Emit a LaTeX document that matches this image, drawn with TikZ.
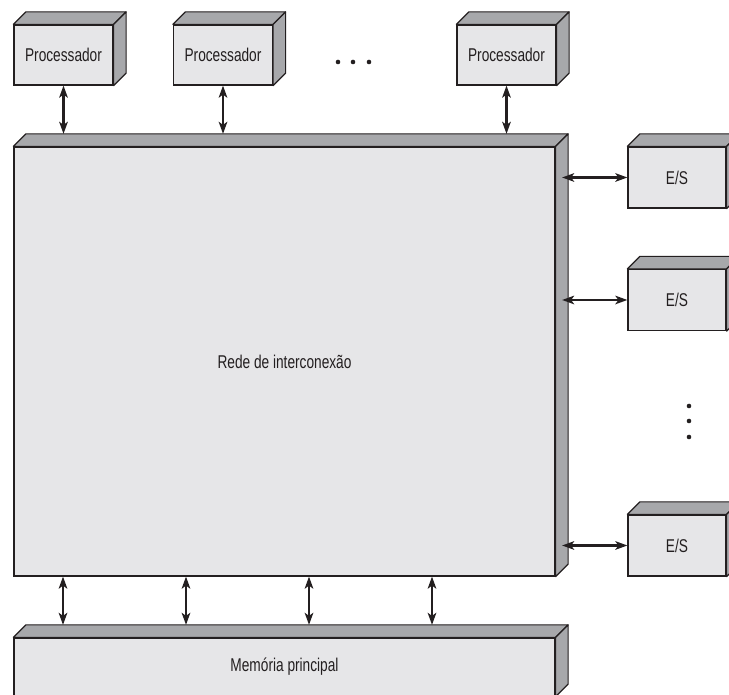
\documentclass[tikz,border=0pt]{standalone}
\usepackage{fontspec}
\setmainfont{Liberation Sans}[FakeStretch=0.74]
\usetikzlibrary{arrows.meta}
\definecolor{facecinza}{RGB}{230, 230, 232}
\definecolor{ladocinza}{RGB}{167, 168, 171}
\definecolor{contorno}{RGB}{35, 31, 32}

\begin{document}
\begin{tikzpicture}[x=1pt, y=1pt, >={Stealth[length=12pt, width=8.5pt, inset=3pt]},
  caixa/.style={draw=contorno, fill=facecinza, line width=1.2pt, inner sep=0pt,
    font=\fontsize{18.5}{22}\selectfont, text=contorno},
  face/.style={draw=contorno, fill=ladocinza, line width=1.2pt, line join=round},
  seta/.style={<->, line width=2.6pt, contorno}]

  \useasboundingbox (0,0) rectangle (729,695);
  \clip (0,0) rectangle (729,695);

  % --- processadores ---
  \node[caixa, minimum width=99, minimum height=60] (p1) at (63.5,640) {Processador};
  \node[caixa, minimum width=99, minimum height=60] (p2) at (223,640) {Processador};
  \node[caixa, minimum width=99, minimum height=60] (p3) at (506.5,640) {Processador};

  % --- rede de interconexao ---
  \node[caixa, minimum width=541, minimum height=429] (rede) at (284.5,333.5)
    {Rede de interconexão};

  % --- modulos de E/S ---
  \node[caixa, minimum width=98, minimum height=61] (es1) at (677,517.5) {E/S};
  \node[caixa, minimum width=98, minimum height=61] (es2) at (677,395) {E/S};
  \node[caixa, minimum width=98, minimum height=61] (es3) at (677,149.5) {E/S};

  % --- memoria ---
  \node[caixa, minimum width=541, minimum height=58] (mem) at (284.5,28)
    {Memória principal};

  % --- faces de cima e do lado ---
  \foreach \n in {p1,p2,p3,rede,es1,es2,es3,mem} {
    \draw[face] (\n.north west) -- ++(12.5,12.5)
      -- ([shift={(12.5,12.5)}]\n.north east) -- (\n.north east) -- cycle;
    \draw[face] (\n.north east) -- ++(12.5,12.5)
      -- ([shift={(12.5,12.5)}]\n.south east) -- (\n.south east) -- cycle;
  }

  \coordinate (redetopo) at ([yshift=12.5]rede.north);
  \coordinate (redelado) at ([xshift=6.5]rede.east);
  \coordinate (memtopo) at ([yshift=12.5]mem.north);

  % --- ligacoes ---
  \foreach \p in {p1,p2,p3}
    \draw[seta] (\p.south) -- (\p |- redetopo);
  \foreach \e in {es1,es2,es3}
    \draw[seta] (redelado |- \e) -- (\e.west);
  \foreach \x in {63,186,309,432}
    \draw[seta] (\x,0 |- rede.south) -- (\x,0 |- memtopo);

  % --- reticencias ---
  \foreach \x in {338,353,369}
    \fill[contorno] (\x,633) circle (2.3);
  \foreach \y in {289,274,258}
    \fill[contorno] (689,\y) circle (2.3);

\end{tikzpicture}
\end{document}
